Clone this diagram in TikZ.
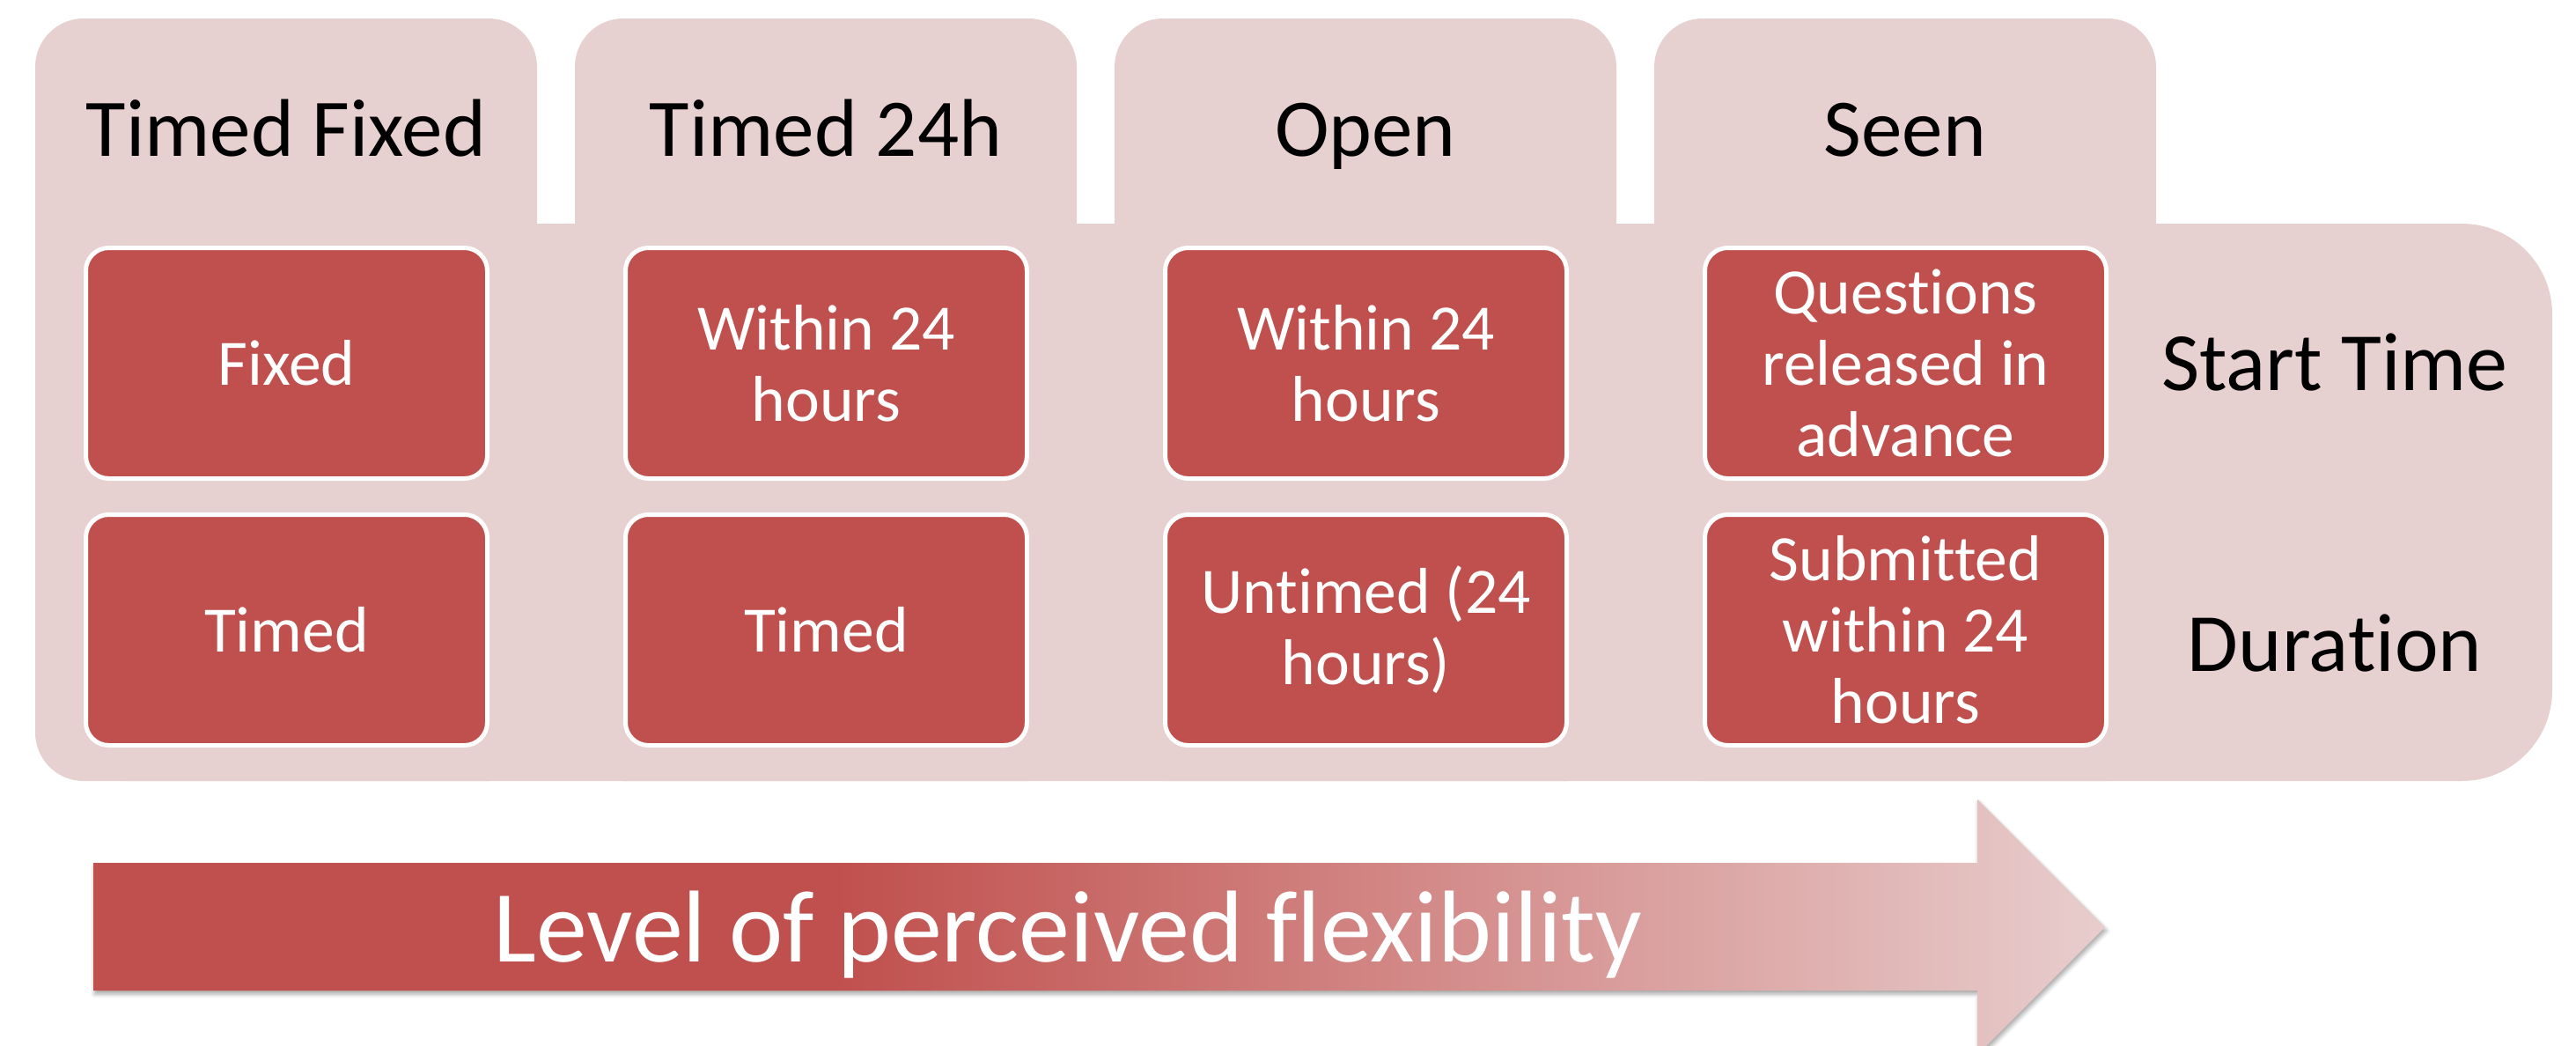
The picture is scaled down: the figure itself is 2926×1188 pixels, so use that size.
\documentclass[tikz,border=0pt]{standalone}
\usepackage{fontspec}
\setmainfont{Carlito}[Ligatures=CommonOff]
\usetikzlibrary{shadows.blur}
\definecolor{panelpink}{HTML}{E7D0D0}
\definecolor{cellred}{HTML}{C0504D}
\definecolor{arrowtip}{HTML}{E8CDCD}
% red on the left, fading out towards the arrow tip
% (the stretch 25bp..75bp is mapped onto the shaded path)
\pgfdeclarehorizontalshading{flexfade}{100bp}{color(0bp)=(cellred); color(43.5bp)=(cellred); color(75bp)=(arrowtip); color(100bp)=(arrowtip)}
\begin{document}
\begin{tikzpicture}[x=0.25pt, y=-0.25pt,
  column/.style={fill=panelpink, rounded corners=13.75pt, minimum width=142.5pt,
    minimum height=216.5pt, inner sep=0pt},
  band/.style={fill=panelpink, rounded corners=25.75pt, minimum width=714.75pt,
    minimum height=158.25pt, inner sep=0pt},
  cell/.style={fill=cellred, draw=white, line width=1.25pt, rounded corners=6.5pt,
    minimum width=114pt, minimum height=65.5pt, inner sep=0pt, text=white,
    align=center, font=\fontsize{18.4pt}{20.25pt}\selectfont},
  heading/.style={anchor=base, inner sep=0pt, text=black,
    font=\fontsize{23.25pt}{28pt}\selectfont},
  rowlabel/.style={anchor=base, inner sep=0pt, text=black,
    font=\fontsize{23.5pt}{28pt}\selectfont},
  flextext/.style={anchor=base, inner sep=0pt, text=white,
    font=\fontsize{29pt}{34pt}\selectfont}]
\useasboundingbox (0,0) rectangle (2926,1188);
\clip (0,0) rectangle (2926,1188);

% background panel: a wide band plus four tall tabbed columns
\node[band] (band) at (1469.5,570.5) {};
\node[column] (col1) at (325,454) {};
\node[column] (col2) at (938,454) {};
\node[column] (col3) at (1551,454) {};
\node[column] (col4) at (2164,454) {};

% column headings
\node[heading] (h1) at (325,177) {Timed Fixed};
\node[heading] (h2) at (938,177) {Timed 24h};
\node[heading] (h3) at (1551,177) {Open};
\node[heading] (h4) at (2164,177) {Seen};

% start time row
\node[cell] (s1) at (325.5,412.5) {Fixed};
\node[cell] (s2) at (938.5,412.5) {Within 24\\hours};
\node[cell] (s3) at (1551.5,412.5) {Within 24\\hours};
\node[cell] (s4) at (2164.5,412.5) {Questions\\released in\\advance};

% duration row
\node[cell] (d1) at (325.5,715.5) {Timed};
\node[cell] (d2) at (938.5,715.5) {Timed};
\node[cell] (d3) at (1551.5,715.5) {Untimed (24\\hours)};
\node[cell] (d4) at (2164.5,715.5) {Submitted\\within 24\\hours};

% row labels
\node[rowlabel] (lstart) at (2652,443) {Start Time};
\node[rowlabel] (ldur) at (2652,762) {Duration};

% flexibility arrow
\shade[shading=flexfade,
  blur shadow={shadow xshift=0.4pt, shadow yshift=-1pt, shadow blur radius=1.2pt, shadow opacity=35}]
  (106,980) -- (2246,980) -- (2246,908) -- (2391,1053) -- (2246,1198)
  -- (2246,1125) -- (106,1125) -- cycle;
\node[flextext] (flex) at (1213,1092) {Level of perceived flexibility};
\end{tikzpicture}
\end{document}
